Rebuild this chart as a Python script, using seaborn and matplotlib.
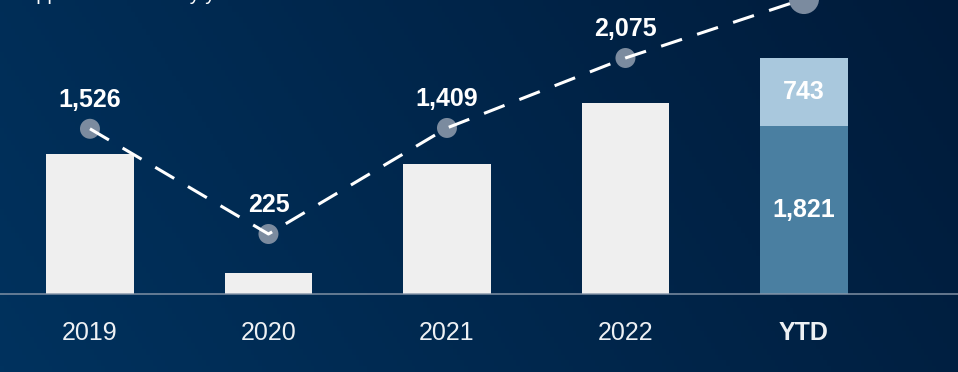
import numpy as np
import pandas as pd
import seaborn as sns
import matplotlib.pyplot as plt

categories = ['2019', '2020', '2021', '2022', 'YTD']
bar_values = [1526, 225, 1409, 2075, 2564]  # YTD = stacked total
ytd_base = 1821
ytd_top = 743
trend_values = [1795, 652, 1804, 2564, 3205]
point_labels = ['1,526', '225', '1,409', '2,075']
bar_colors = ['#efefef', '#efefef', '#efefef', '#efefef', '#a9c8dd']

sns.set_theme(style='white')
plt.rcParams['font.family'] = ['Liberation Sans Narrow', 'Liberation Sans', 'DejaVu Sans']

fig = plt.figure(figsize=(9.58, 3.72), dpi=100)
ax = fig.add_axes([0, 0, 1, 1])

xlim = (-0.504, 4.863)
ylim = (-847, 3194)

# dark blue gradient background
gx = np.linspace(0, 1, 256)
gy = np.linspace(0, 1, 64)
X, Y = np.meshgrid(gx, gy)
t = np.clip(0.8 * X + 0.2 * Y, 0, 1)
c0 = np.array([0x00, 0x32, 0x5e]) / 255
c1 = np.array([0x00, 0x1b, 0x3a]) / 255
img = c0 + (c1 - c0) * t[..., None]
ax.imshow(img, extent=(*xlim, *ylim), origin='lower', aspect='auto', zorder=0)

df = pd.DataFrame({'period': categories, 'value': bar_values})
sns.barplot(data=df, x='period', y='value', hue='period', palette=bar_colors,
            order=categories, width=0.49, saturation=1, legend=False, ax=ax,
            linewidth=0, edgecolor='none')
df_base = pd.DataFrame({'period': ['YTD'], 'value': [ytd_base]})
sns.barplot(data=df_base, x='period', y='value', order=categories,
            color='#4a7fa1', width=0.49, saturation=1, ax=ax,
            linewidth=0, edgecolor='none')

ax.axhline(0, color='#8796a9', lw=1.3, alpha=0.8, zorder=2)

ax.scatter(range(len(categories)), trend_values, s=[207, 207, 207, 207, 470],
           color='#7b8b9f', zorder=3, linewidths=0)
sns.lineplot(x=list(range(len(categories))), y=trend_values, color='white',
             lw=2.2, linestyle=(0, (7.2, 5.2)), ax=ax, zorder=4)

for i, lbl in enumerate(point_labels):
    ax.annotate(lbl, (i, trend_values[i]), xytext=(0, 16), textcoords='offset points',
                ha='center', va='baseline', fontsize=18, fontweight='bold', color='white')

ax.text(4, ytd_base / 2, '1,821', ha='center', va='center', fontsize=18,
        fontweight='bold', color='white')
ax.text(4, ytd_base + ytd_top / 2, '743', ha='center', va='center', fontsize=18,
        fontweight='bold', color='white')

for i, cat in enumerate(categories):
    ax.text(i, -500, cat, ha='center', va='baseline', fontsize=18, color='#eef1f4',
            fontweight='bold' if cat == 'YTD' else 'normal')

fig.text(23 / 958, 1.0, 'Applications filed by year', family='Liberation Sans',
         fontsize=14.3, color='white', va='baseline')

ax.set_xlim(*xlim)
ax.set_ylim(*ylim)
ax.set_axis_off()

fig.savefig('out.png', dpi=100)
